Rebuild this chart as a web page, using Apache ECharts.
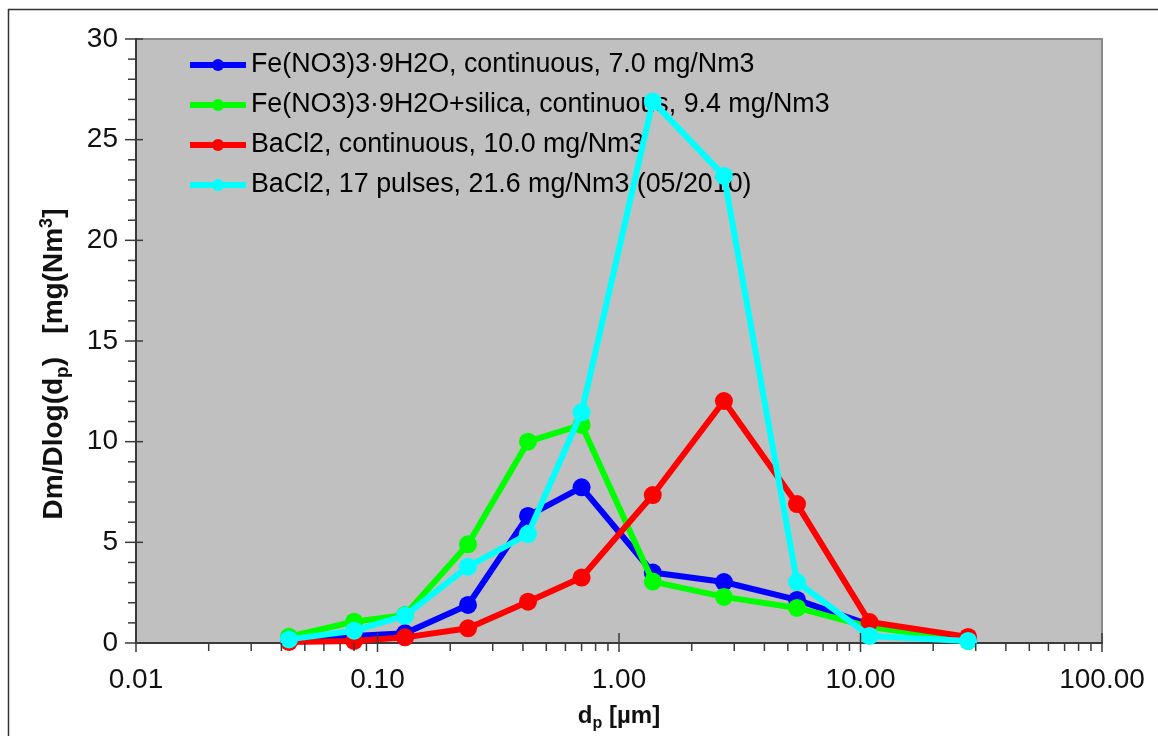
<!DOCTYPE html>
<html>
<head>
<meta charset="utf-8">
<title>Particle mass size distribution</title>
<script src="https://cdn.jsdelivr.net/npm/echarts@6/dist/echarts.min.js"></script>
<style>
  html, body { margin: 0; padding: 0; background: #ffffff; }
  #chart { width: 1158px; height: 736px; }
</style>
</head>
<body>
<div id="chart"></div>
<script>
// Particle diameters (µm) of the impactor stages
const diameters = [0.043, 0.080, 0.130, 0.237, 0.42, 0.70, 1.38, 2.72, 5.46, 10.9, 27.9];

// Dm/Dlog(dp) [mg/Nm3] for each run
const feContinuous       = [0.15, 0.35, 0.48, 1.89, 6.31, 7.73, 3.50, 3.03, 2.14, 0.90, 0.15];
const feSilicaContinuous = [0.31, 1.06, 1.39, 4.90, 10.0, 10.83, 3.05, 2.29, 1.74, 0.80, 0.10];
const baclContinuous     = [0.05, 0.10, 0.28, 0.73, 2.05, 3.25, 7.35, 12.02, 6.90, 1.04, 0.30];
const baclPulses         = [0.18, 0.61, 1.36, 3.79, 5.41, 11.46, 26.9, 23.2, 3.03, 0.35, 0.10];

const seriesNames = [
  'Fe(NO3)3·9H2O, continuous, 7.0 mg/Nm3',
  'Fe(NO3)3·9H2O+silica, continuous, 9.4 mg/Nm3',
  'BaCl2, continuous, 10.0 mg/Nm3',
  'BaCl2, 17 pulses, 21.6 mg/Nm3 (05/2010)'
];
const seriesColors = ['#0000ff', '#00ff00', '#ff0000', '#00ffff'];
const seriesValues = [feContinuous, feSilicaContinuous, baclContinuous, baclPulses];

// Axis ranges and tick positions
const xMin = 0.01, xMax = 100;
const yMin = 0, yMax = 30, yStep = 5;
const xMajorTicks = [0.01, 0.1, 1, 10, 100];
const xMinorTicks = [];
for (let e = -2; e < 2; e++) {
  for (let m = 2; m <= 9; m++) xMinorTicks.push(+(m * Math.pow(10, e)).toPrecision(3));
}
const yMajorTicks = [];
const yMinorTicks = [];
for (let v = yMin; v <= yMax; v++) {
  if (v % yStep === 0) yMajorTicks.push(v); else yMinorTicks.push(v);
}

const FONT = '"Liberation Sans", Arial, sans-serif';
const AXIS_COLOR = '#3a3a3a';

const lineSeries = seriesNames.map((name, i) => ({
  name: name,
  type: 'line',
  data: diameters.map((d, j) => [d, seriesValues[i][j]]),
  symbol: 'circle',
  symbolSize: 18,
  color: seriesColors[i],
  lineStyle: { width: 6, color: seriesColors[i] },
  itemStyle: { color: seriesColors[i] },
  z: 3 + i,
  animation: false
}));

// Tick marks: majors cross the axis, minors point outward
const tickData = [];
xMajorTicks.forEach(v => tickData.push(['x', v, 'major']));
xMinorTicks.forEach(v => tickData.push(['x', v, 'minor']));
yMajorTicks.forEach(v => tickData.push(['y', v, 'major']));
yMinorTicks.forEach(v => tickData.push(['y', v, 'minor']));

const tickSeries = {
  type: 'custom',
  coordinateSystem: 'cartesian2d',
  clip: false,
  silent: true,
  animation: false,
  z: 10,
  data: tickData.map(t => [t[0] === 'x' ? t[1] : xMin, t[0] === 'y' ? t[1] : yMin]),
  encode: { x: 0, y: 1 },
  renderItem: function (params, api) {
    const item = tickData[params.dataIndex];
    const axis = item[0], kind = item[2];
    let shape;
    if (axis === 'x') {
      const p = api.coord([item[1], yMin]);
      shape = kind === 'major'
        ? { x1: p[0], y1: p[1] - 10, x2: p[0], y2: p[1] + 9 }
        : { x1: p[0], y1: p[1], x2: p[0], y2: p[1] + 8 };
    } else {
      const p = api.coord([xMin, item[1]]);
      shape = kind === 'major'
        ? { x1: p[0] - 11, y1: p[1], x2: p[0] + 7, y2: p[1] }
        : { x1: p[0] - 8, y1: p[1], x2: p[0], y2: p[1] };
    }
    return {
      type: 'line',
      shape: shape,
      style: { stroke: AXIS_COLOR, lineWidth: 1.5 }
    };
  }
};

const chart = echarts.init(document.getElementById('chart'), null, { renderer: 'canvas' });

chart.setOption({
  backgroundColor: '#ffffff',
  animation: false,
  textStyle: { fontFamily: FONT },
  grid: {
    left: 136, top: 39, right: 56, bottom: 93,
    containLabel: false,
    outerBoundsMode: 'none',
    show: true,
    backgroundColor: '#c0c0c0',
    borderColor: '#8a8a8a',
    borderWidth: 2
  },
  legend: {
    data: seriesNames,
    orient: 'vertical',
    left: 187,
    top: 50,
    padding: 0,
    itemWidth: 56,
    itemHeight: 15,
    itemGap: 10,
    lineStyle: { width: 6 },
    textStyle: { fontFamily: FONT, fontSize: 26.8, color: '#000', lineHeight: 30 },
    selectedMode: false
  },
  xAxis: {
    type: 'log',
    logBase: 10,
    min: xMin,
    max: xMax,
    axisLine: { show: true, onZero: false, lineStyle: { color: AXIS_COLOR, width: 2 } },
    axisTick: { show: false },
    minorTick: { show: false },
    splitLine: { show: false },
    axisLabel: {
      fontFamily: FONT, fontSize: 28, color: '#111', margin: 23,
      formatter: v => Number(v).toFixed(2)
    },
    name: '{b|d}{s|p}{b| [µm]}',
    nameLocation: 'middle',
    nameGap: 57,
    nameTextStyle: {
      rich: {
        b: { fontFamily: FONT, fontSize: 24, fontWeight: 'bold', color: '#111', lineHeight: 28, verticalAlign: 'bottom' },
        s: { fontFamily: FONT, fontSize: 16, fontWeight: 'bold', color: '#111', lineHeight: 16, verticalAlign: 'bottom', padding: [0, 0, -4, 0] }
      }
    }
  },
  yAxis: {
    type: 'value',
    min: yMin,
    max: yMax,
    interval: yStep,
    axisLine: { show: true, lineStyle: { color: AXIS_COLOR, width: 2 } },
    axisTick: { show: false },
    splitLine: { show: false },
    axisLabel: { fontFamily: FONT, fontSize: 28, color: '#111', margin: 18 },
    name: '{b|Dm/Dlog(d}{s|p}{b|)   [mg(Nm}{u|3}{b|]}',
    nameLocation: 'middle',
    nameRotate: 90,
    nameGap: 68,
    nameTextStyle: {
      padding: [0, 46, 0, 0],
      rich: {
        b: { fontFamily: FONT, fontSize: 28, fontWeight: 'bold', color: '#111', lineHeight: 30, verticalAlign: 'bottom' },
        s: { fontFamily: FONT, fontSize: 19, fontWeight: 'bold', color: '#111', lineHeight: 19, verticalAlign: 'bottom', padding: [0, 0, -4, 0] },
        u: { fontFamily: FONT, fontSize: 18, fontWeight: 'bold', color: '#111', lineHeight: 18, verticalAlign: 'top' }
      }
    }
  },
  graphic: [
    { type: 'line', shape: { x1: 8.5, y1: 9, x2: 8.5, y2: 736 }, style: { stroke: '#333', lineWidth: 1.5 }, silent: true },
    { type: 'line', shape: { x1: 8, y1: 9.5, x2: 1158, y2: 9.5 }, style: { stroke: '#333', lineWidth: 1.5 }, silent: true }
  ],
  series: lineSeries.concat([tickSeries])
});
</script>
</body>
</html>
